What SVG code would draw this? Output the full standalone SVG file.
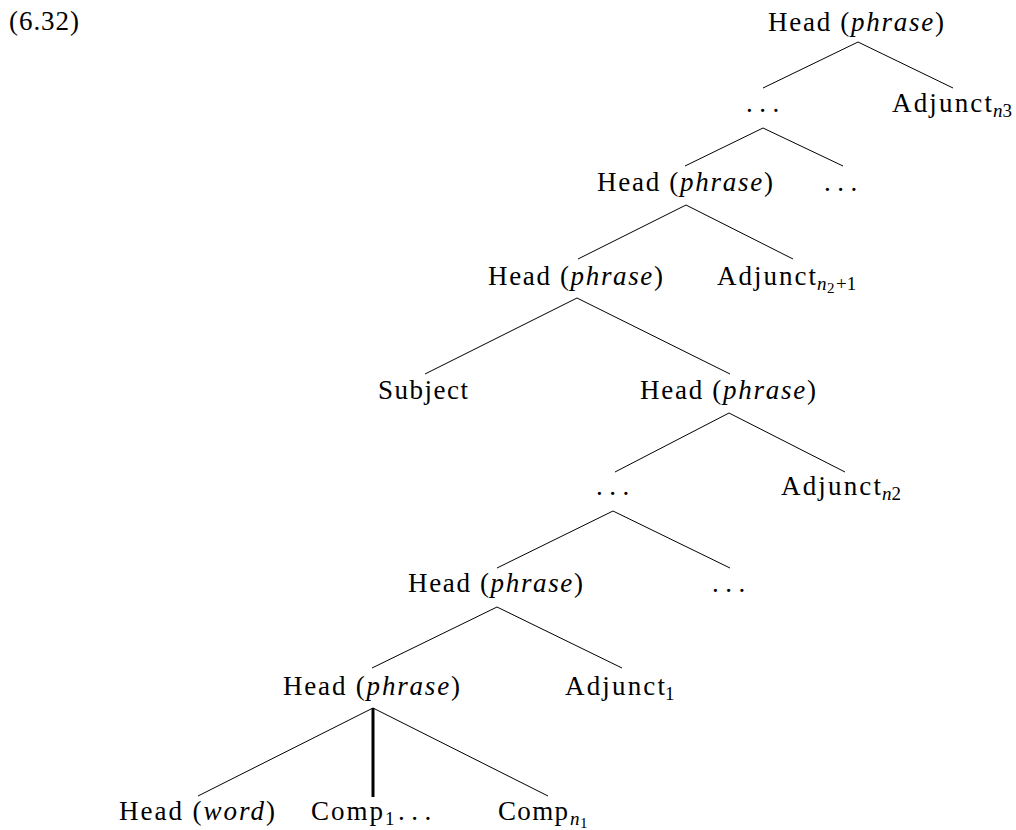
<svg xmlns="http://www.w3.org/2000/svg" width="1016" height="830" viewBox="0 0 1016 830">
<style>
text{font-family:"Liberation Serif","Times New Roman",serif;font-size:27px;fill:#000}
.it{font-style:italic}
.sub{font-size:19px}
.subsub{font-size:15px}
.dots{letter-spacing:6.5px}
.edge{stroke:#000;stroke-width:1;fill:none}
.thick{stroke:#000;stroke-width:3;fill:none}
</style>
<rect width="1016" height="830" fill="#fff"/>
<g id="connectors">
<path class="edge" d="M858,42 L763,88 M858,42 L953,88"/>
<path class="edge" d="M763,128 L685,166 M763,128 L843,166"/>
<path class="edge" d="M686,205 L578,259 M686,205 L793,259"/>
<path class="edge" d="M577,298 L425,374 M577,298 L730,374"/>
<path class="edge" d="M729,413 L615,472 M729,413 L845,472"/>
<path class="edge" d="M613,511 L497,568 M613,511 L730,568"/>
<path class="edge" d="M497,607 L372,668 M497,607 L622,668"/>
<path class="edge" d="M373,708 L198,796 M373,708 L548,796"/>
<path class="thick" d="M373,708 L373,797"/>
</g>
<g id="label-num"><text x="9" y="30" textLength="70">(6.32)</text></g>
<g id="n1"><text x="768" y="31" textLength="176">Head (<tspan class="it">phrase</tspan>)</text></g>
<g id="n2"><text class="dots" x="746" y="112">...</text></g>
<g id="n3"><text x="892" y="112" textLength="100">Adjunct</text><text class="sub" x="993" y="117"><tspan class="it">n</tspan>3</text></g>
<g id="n4"><text x="597" y="191" textLength="176">Head (<tspan class="it">phrase</tspan>)</text></g>
<g id="n5"><text class="dots" x="824" y="191">...</text></g>
<g id="n6"><text x="488" y="285" textLength="175">Head (<tspan class="it">phrase</tspan>)</text></g>
<g id="n7"><text x="717" y="285" textLength="99">Adjunct</text><text class="sub it" x="817" y="290">n</text><text class="subsub" x="827" y="293">2</text><text class="sub" x="836" y="290">+1</text></g>
<g id="n8"><text x="378" y="399" textLength="90">Subject</text></g>
<g id="n9"><text x="640" y="399" textLength="176">Head (<tspan class="it">phrase</tspan>)</text></g>
<g id="n10"><text class="dots" x="596" y="495">...</text></g>
<g id="n11"><text x="781" y="495" textLength="100">Adjunct</text><text class="sub" x="882" y="500"><tspan class="it">n</tspan>2</text></g>
<g id="n12"><text x="408" y="592" textLength="175">Head (<tspan class="it">phrase</tspan>)</text></g>
<g id="n13"><text class="dots" x="712" y="592">...</text></g>
<g id="n14"><text x="283" y="695" textLength="177">Head (<tspan class="it">phrase</tspan>)</text></g>
<g id="n15"><text x="565" y="695" textLength="100">Adjunct</text><text class="sub" x="665" y="700">1</text></g>
<g id="n16"><text x="119" y="820" textLength="156">Head (<tspan class="it">word</tspan>)</text></g>
<g id="n17"><text x="311" y="820" textLength="72">Comp</text><text class="sub" x="385" y="825">1</text><text class="dots" x="398" y="820">...</text></g>
<g id="n18"><text x="498" y="820" textLength="70">Comp</text><text class="sub it" x="570" y="825">n</text><text class="subsub" x="580" y="828">1</text></g>
</svg>
